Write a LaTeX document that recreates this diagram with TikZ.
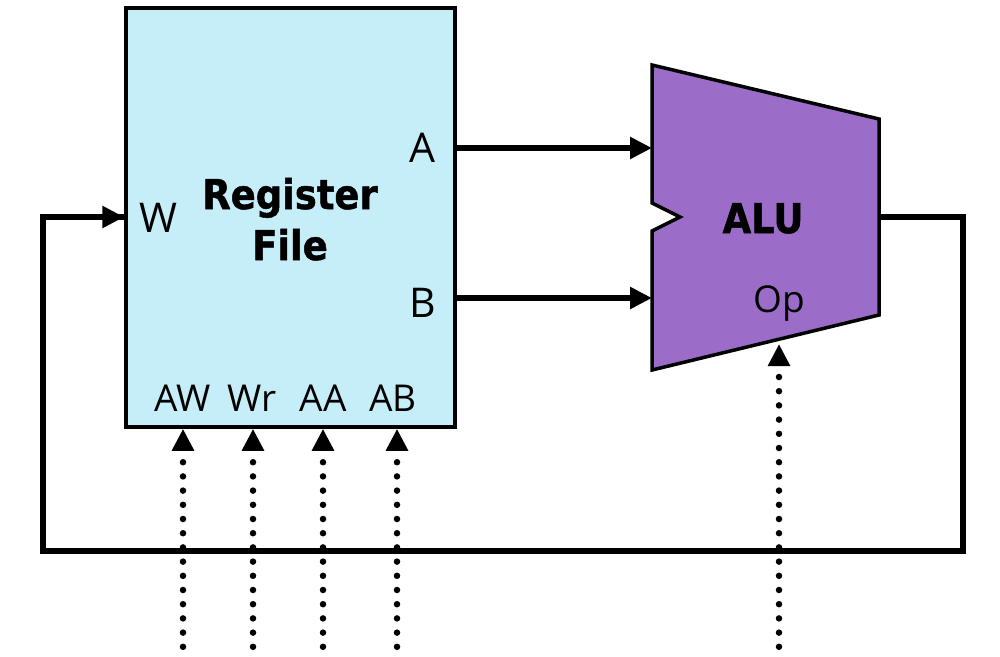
\documentclass[tikz,border=0pt]{standalone}
\usepackage{fontspec}
\setmainfont{Open Sans}
\newfontfamily\boldface[FakeStretch=0.9,FakeBold=1.2]{DejaVu Sans}
\usetikzlibrary{arrows.meta}

\definecolor{rfcyan}{HTML}{C6EEF8}
\definecolor{alupurple}{HTML}{9B6DC8}

\begin{document}
\begin{tikzpicture}[x=1pt,y=-1pt,
  wire/.style={line width=6pt,-{Triangle[length=22pt,width=21pt]}},
  plainwire/.style={line width=6pt,line join=miter},
  ctrl/.style={line width=6.5pt,line cap=round,dash pattern=on 0pt off 14.2pt,
               -{Triangle[length=22pt,width=21pt,line cap=butt]}},
  lbl/.style={font=\fontsize{41}{41}\selectfont,inner sep=0pt,anchor=base},
  sublbl/.style={font=\fontsize{37}{37}\selectfont,inner sep=0pt,anchor=base},
  title/.style={font=\boldface\bfseries\fontsize{41}{41}\selectfont,inner sep=0pt,anchor=base}]
  \useasboundingbox (0,0) rectangle (1000,656);

  % register file block
  \node[draw,line width=3.5pt,fill=rfcyan,minimum width=329pt,minimum height=419pt,
        inner sep=0pt] (rf) at (290.5,217.5) {};
  \node[title] (rf-t1) at (290,209) {Register};
  \node[title] (rf-t2) at (290,260) {File};
  \node[lbl] (pa) at (422.5,162) {A};
  \node[lbl] (pb) at (422.5,317) {B};
  \node[lbl] (pw) at (158,232) {W};
  \node[sublbl] (paw) at (183,411) {AW};
  \node[sublbl] (pwr) at (252,411) {Wr};
  \node[sublbl] (paa) at (323,411) {AA};
  \node[sublbl] (pab) at (393,411) {AB};

  % ALU trapezoid with input notch
  \draw[line width=3.5pt,fill=alupurple,line join=miter]
    (652,65) -- (879,119) -- (879,315) -- (652,370) -- (652,231)
    -- (680,217) -- (652,203) -- cycle;
  \coordinate (alu-a) at (652,148);
  \coordinate (alu-b) at (652,298);
  \coordinate (alu-out) at (879,217);
  \coordinate (alu-op) at (779,344);
  \node[title] (alu) at (763,233) {ALU};
  \node[sublbl] (op) at (779,312) {Op};

  % operand buses
  \draw[wire] (rf.east |- alu-a) -- (alu-a);
  \draw[wire] (rf.east |- alu-b) -- (alu-b);

  % write-back loop
  \coordinate (fb1) at (963,217);
  \coordinate (fb2) at (963,551);
  \coordinate (fb3) at (43,551);
  \coordinate (fb4) at (43,217);
  \draw[plainwire] (alu-out) -- (fb1) -- (fb2) -- (fb3) -- (fb4) -- (126,217);
  \draw[wire] (fb4) -- (rf.west |- fb4);

  % control inputs
  \foreach \n/\x in {aw/183,wr/253,aa/323,ab/397} {
    \coordinate (c-\n) at (\x,661);
    \draw[ctrl] (c-\n) -- (c-\n |- rf.south);
  }
  \coordinate (c-op) at (779,661);
  \draw[ctrl] (c-op) -- (alu-op);
\end{tikzpicture}
\end{document}
